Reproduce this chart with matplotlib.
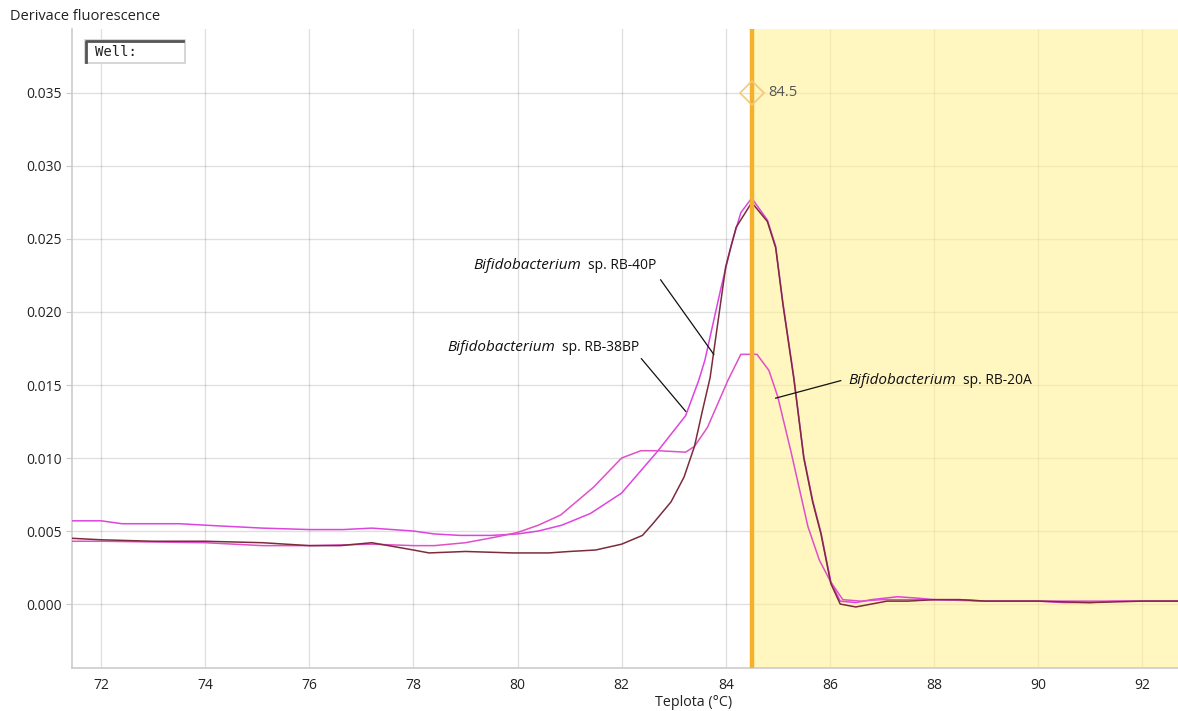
import numpy as np
import matplotlib
matplotlib.use("Agg")
import matplotlib.pyplot as plt
from matplotlib.patches import Rectangle
from matplotlib.lines import Line2D

plt.rcParams['font.family'] = ['Open Sans', 'DejaVu Sans']

# melt curves (derivative of fluorescence vs. temperature)
t_40p = [71.45, 72, 73, 74, 75.1, 76, 76.6, 77.2, 78, 78.3, 79, 79.9, 80.6, 81.0,
         81.5, 82.0, 82.4, 82.6, 82.95, 83.2, 83.4, 83.55, 83.7, 84.0, 84.2, 84.5,
         84.8, 84.96, 85.1, 85.31, 85.5, 85.67, 85.83, 86.02, 86.2, 86.5, 86.8,
         87.1, 87.5, 88.0, 88.5, 89, 90, 91, 92, 92.69]
d_40p = [0.0045, 0.0044, 0.0043, 0.0043, 0.0042, 0.0040, 0.0040, 0.0042, 0.0037,
         0.0035, 0.0036, 0.0035, 0.0035, 0.0036, 0.0037, 0.0041, 0.0047, 0.0055,
         0.0070, 0.0087, 0.0108, 0.0132, 0.0155, 0.0231, 0.0258, 0.0275, 0.0262,
         0.0244, 0.0205, 0.0154, 0.0100, 0.0070, 0.0048, 0.0014, 0.0000, -0.0002,
         0.0000, 0.0002, 0.0002, 0.0003, 0.0003, 0.0002, 0.0002, 0.0001, 0.0002,
         0.0002]

t_38bp = [71.45, 72, 72.4, 73.5, 74, 75.1, 76, 76.65, 77.2, 78, 78.4, 78.9, 79.5,
          80, 80.4, 80.85, 81.4, 82.0, 82.7, 83.23, 83.48, 83.6, 83.9, 84.1, 84.29,
          84.5, 84.8, 84.96, 85.1, 85.31, 85.5, 85.67, 85.83, 86.02, 86.2, 86.5,
          86.8, 87.3, 87.7, 88, 88.5, 89, 90, 90.5, 91, 91.5, 92, 92.69]
d_38bp = [0.0057, 0.0057, 0.0055, 0.0055, 0.0054, 0.0052, 0.0051, 0.0051, 0.0052,
          0.0050, 0.0048, 0.0047, 0.0047, 0.0048, 0.0050, 0.0054, 0.0062, 0.0076,
          0.0105, 0.0129, 0.0153, 0.0167, 0.0215, 0.0245, 0.0268, 0.0278, 0.0263,
          0.0245, 0.0206, 0.0155, 0.0101, 0.0071, 0.0049, 0.0015, 0.0002, 0.0001,
          0.0003, 0.0005, 0.0004, 0.0003, 0.0003, 0.0002, 0.0002, 0.0001, 0.0001,
          0.0002, 0.0002, 0.0002]

t_20a = [71.45, 72, 74, 75.1, 76, 77.2, 78, 78.4, 79, 79.6, 80, 80.4, 80.83, 81.46,
         82.0, 82.37, 82.7, 83.23, 83.4, 83.65, 84.04, 84.29, 84.6, 84.83, 85.0,
         85.25, 85.58, 85.8, 86.02, 86.25, 86.6, 87.0, 87.5, 88, 89, 90, 91, 92,
         92.69]
d_20a = [0.0043, 0.0043, 0.0042, 0.0040, 0.0040, 0.0041, 0.0040, 0.0040, 0.0042,
         0.0046, 0.0049, 0.0054, 0.0061, 0.0080, 0.0100, 0.0105, 0.0105, 0.0104,
         0.0108, 0.0121, 0.0153, 0.0171, 0.0171, 0.0160, 0.0142, 0.0105, 0.0053,
         0.0030, 0.0015, 0.0003, 0.0002, 0.0003, 0.0003, 0.0003, 0.0002, 0.0002,
         0.0002, 0.0002, 0.0002]

tm = 84.5          # melting temperature marker
tm_level = 0.035

fig = plt.figure(figsize=(11.78, 7.11), dpi=100)
ax = fig.add_axes([72 / 1178, 43 / 711, 1106 / 1178, 639 / 711])

ax.set_xlim(71.44, 92.69)
ax.set_ylim(-0.00438, 0.03938)

ax.grid(True, color="black", alpha=0.12, lw=1.0, zorder=1)
ax.set_axisbelow(True)
# semi-transparent band over the grid so grid lines read as tan inside it
ax.axvspan(tm, 92.69, color="#fff096", alpha=0.6, lw=0, zorder=1.5)

ax.plot(t_38bp, d_38bp, color="#dd44e0", lw=1.1, zorder=3)
ax.plot(t_20a, d_20a, color="#e050c8", lw=1.1, zorder=3)
ax.plot(t_40p, d_40p, color="#7c2c3c", lw=1.1, zorder=4)

ax.axvline(tm, color="#f5b02c", lw=3.2, zorder=5)
ax.plot([tm], [tm_level], marker="D", ms=12, mfc="none", mec="#f3c878",
        mew=1.2, zorder=6)
ax.text(tm + 0.32, tm_level, f"{tm}", fontsize=10.5, color="#555555",
        va="center", ha="left", zorder=6)

ax.set_xticks(np.arange(72, 93, 2))
ax.set_yticks(np.arange(0, 0.0351, 0.005))
ax.set_yticklabels([f"{v:.3f}" for v in np.arange(0, 0.0351, 0.005)])
ax.tick_params(axis="both", labelsize=10, colors="#222222", color="#c8c8c8",
               length=4)
ax.tick_params(axis="x", length=0, pad=7)

for s in ["top", "right"]:
    ax.spines[s].set_visible(False)
for s in ["left", "bottom"]:
    ax.spines[s].set_color("#cccccc")
    ax.spines[s].set_linewidth(1.2)

fig.text(10 / 1178, 1 - 17 / 711, "Derivace fluorescence", fontsize=10.5,
         color="#222222", va="center", ha="left")
fig.text(694 / 1178, 1 - 703 / 711, "Teplota (°C)", fontsize=10.3,
         color="#222222", va="center", ha="center")

# annotations for the three strains
labels = [
    ("RB-40P", (79.15, 0.02315), (82.75, 0.0222), (83.77, 0.0171)),
    ("RB-38BP", (78.65, 0.0176), (82.38, 0.0168), (83.23, 0.0132)),
    ("RB-20A", (86.35, 0.0153), (86.21, 0.0153), (84.96, 0.0141)),
]
for strain, pos, p0, p1 in labels:
    genus = ax.text(pos[0], pos[1], "Bifidobacterium", fontsize=11,
                    style="italic", color="#111111", ha="left", va="center",
                    zorder=7)
    ax.annotate(f"sp. {strain}", xy=(1, 0.5), xycoords=genus,
                xytext=(5, 0), textcoords="offset points", fontsize=10,
                color="#111111", ha="left", va="center", zorder=7)
    ax.plot([p0[0], p1[0]], [p0[1], p1[1]], color="#111111", lw=0.9, zorder=7)

# "Well:" box in the corner
bx, by, bw, bh = 85 / 1178, 1 - 63 / 711, 100 / 1178, 23 / 711
fig.patches.append(Rectangle((bx, by), bw, bh, transform=fig.transFigure,
                             facecolor="white", edgecolor="#d0d0d0", lw=1.2))
fig.lines.append(Line2D([bx + 0.001, bx + 0.001, bx + bw - 0.002],
                        [by + 0.002, by + bh - 0.002, by + bh - 0.002],
                        transform=fig.transFigure, color="#555555", lw=2))
fig.text(bx + 10 / 1178, by + bh / 2, "Well:", fontsize=10,
         family="DejaVu Sans Mono", color="#222222", va="center", ha="left")

fig.savefig("out.png", dpi=100)
